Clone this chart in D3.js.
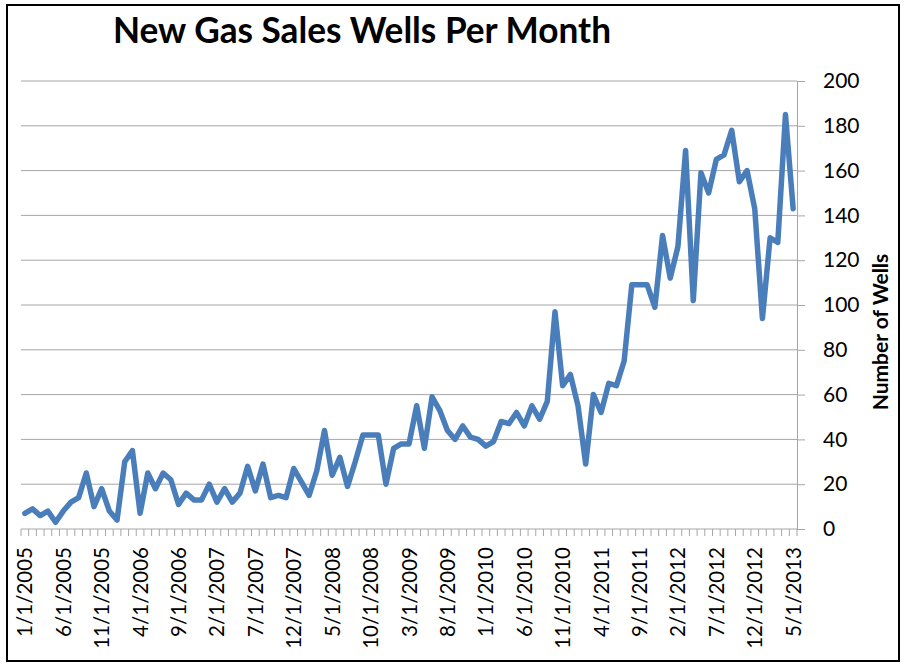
<!DOCTYPE html>
<html>
<head>
<meta charset="utf-8">
<script src="https://cdn.jsdelivr.net/npm/d3@7"></script>
<style>
body { margin: 0; background: #fff; }
text { font-family: Lato, "Open Sans", sans-serif; }
</style>
</head>
<body>
<div class="chart"></div>
<script>
const startYear = 2005, startMonth = 1;
const wells = [7, 9, 6, 8, 3, 8, 12, 14, 25, 10,
    18, 8, 4, 30, 35, 7, 25, 18, 25, 22,
    11, 16, 13, 13, 20, 12, 18, 12, 16, 28,
    17, 29, 14, 15, 14, 27, 21, 15, 26, 44,
    24, 32, 19, 30, 42, 42, 42, 20, 36, 38,
    38, 55, 36, 59, 53, 44, 40, 46, 41, 40,
    37, 39, 48, 47, 52, 46, 55, 49, 57, 97,
    64, 69, 55, 29, 60, 52, 65, 64, 75, 109,
    109, 109, 99, 131, 112, 126, 169, 102, 159, 150,
    165, 167, 178, 155, 160, 143, 94, 130, 128, 185,
    143];
const yTicks = [0, 20, 40, 60, 80, 100, 120, 140, 160, 180, 200];
const labelEvery = 5;

const months = wells.map((v, i) => {
    const m = (startMonth - 1 + i) % 12 + 1;
    const y = startYear + Math.floor((startMonth - 1 + i) / 12);
    return m + '/1/' + y;
});

const W = 904, H = 666;
const plot = {left: 21, right: 797, top: 81, bottom: 529};

let svg = d3.select('.chart').append('svg')
    .attr('width', W)
    .attr('height', H);

svg.append('rect')
    .attr('x', 7)
    .attr('y', 5)
    .attr('width', 892)
    .attr('height', 656)
    .attr('fill', 'white')
    .attr('stroke', 'black')
    .attr('stroke-width', 2);

const x = d3.scalePoint()
    .domain(months)
    .range([plot.left, plot.right])
    .padding(0.5);

const step = x.step();

const y = d3.scaleLinear()
    .domain([0, 200])
    .range([plot.bottom, plot.top]);

// horizontal gridlines
svg.append('g')
    .selectAll('line')
    .data(yTicks.slice(1))
    .enter()
    .append('line')
    .attr('x1', plot.left)
    .attr('x2', plot.right)
    .attr('y1', d => y(d))
    .attr('y2', d => y(d))
    .attr('stroke', '#a6a6a6')
    .attr('stroke-width', 1);

// right value axis
const Yaxis = d3.axisRight(y)
    .tickValues(yTicks)
    .tickSize(8)
    .tickPadding(18)
    .tickFormat(d3.format('d'));

let Y = svg.append('g')
    .attr('class', 'axis y-axis')
    .attr('transform', `translate(${plot.right}, 0)`)
    .call(Yaxis);

Y.select('.domain').attr('stroke', '#a6a6a6');
Y.selectAll('.tick line').attr('stroke', '#a6a6a6');
Y.selectAll('text')
    .attr('font-size', 21)
    .attr('fill', '#000');

// category axis with a tick between each month
const edges = d3.range(wells.length + 1).map(k => plot.left + k * step);

let X = svg.append('g').attr('class', 'axis x-axis');

X.append('line')
    .attr('x1', plot.left)
    .attr('x2', plot.right)
    .attr('y1', plot.bottom)
    .attr('y2', plot.bottom)
    .attr('stroke', '#a6a6a6');

X.selectAll('.mtick')
    .data(edges)
    .enter()
    .append('line')
    .attr('class', 'mtick')
    .attr('x1', d => d)
    .attr('x2', d => d)
    .attr('y1', plot.bottom)
    .attr('y2', plot.bottom + 7)
    .attr('stroke', '#a6a6a6');

X.selectAll('.xlabel')
    .data(months.filter((d, i) => i % labelEvery === 0))
    .enter()
    .append('text')
    .attr('class', 'xlabel')
    .attr('transform', d => `translate(${x(d) + 7.5}, ${plot.bottom + 18}) rotate(-90)`)
    .attr('text-anchor', 'end')
    .attr('font-size', 20.5)
    .attr('fill', '#000')
    .text(d => d);

const line = d3.line()
    .x((d, i) => x(months[i]))
    .y(d => y(d));

svg.append('path')
    .datum(wells)
    .attr('class', 'line')
    .attr('d', line)
    .attr('fill', 'none')
    .attr('stroke', '#4a7ebb')
    .attr('stroke-width', 5.5)
    .attr('stroke-linejoin', 'round')
    .attr('stroke-linecap', 'round');

svg.append('text')
    .attr('x', 362)
    .attr('y', 43)
    .attr('text-anchor', 'middle')
    .attr('font-size', 36)
    .attr('font-weight', 'bold')
    .attr('textLength', 498)
    .attr('lengthAdjust', 'spacingAndGlyphs')
    .text('New Gas Sales Wells Per Month');

svg.append('text')
    .attr('transform', 'translate(888, 332) rotate(-90)')
    .attr('text-anchor', 'middle')
    .attr('font-size', 21)
    .attr('font-weight', 'bold')
    .text('Number of Wells');
</script>
</body>
</html>
